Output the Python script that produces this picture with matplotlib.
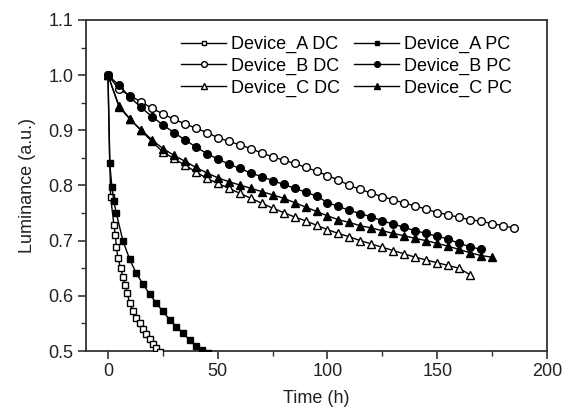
import matplotlib
matplotlib.use("Agg")
import matplotlib.pyplot as plt
from matplotlib.ticker import MultipleLocator, FormatStrFormatter

plt.rcParams['font.family'] = ['Liberation Sans', 'DejaVu Sans']

# ---- data ----
a_dc_t = [0, 1.2, 2.7, 3.4, 3.8, 4.6, 5.8, 6.8, 7.9, 8.8, 9.9, 11.4, 12.9, 14.4, 15.9, 17.5, 19.0, 20.5, 22.0, 23.6]
a_dc_y = [1.0, 0.78, 0.729, 0.71, 0.689, 0.668, 0.650, 0.635, 0.620, 0.605, 0.587, 0.572, 0.560, 0.551, 0.540, 0.531, 0.522, 0.513, 0.505, 0.499]

a_pc_t = [0, 0.8, 1.8, 2.7, 3.8, 6.8, 9.9, 12.9, 16.0, 19.0, 22.0, 25.0, 28.1, 31.2, 34.2, 37.2, 40.3, 43.0, 45.5]
a_pc_y = [1.0, 0.84, 0.798, 0.771, 0.750, 0.700, 0.666, 0.641, 0.621, 0.603, 0.587, 0.572, 0.557, 0.544, 0.532, 0.520, 0.509, 0.502, 0.497]

b_dc_t = list(range(0, 186, 5))
b_dc_y = [1.0, 0.975, 0.963, 0.952, 0.940, 0.930, 0.920, 0.912, 0.904, 0.896,
          0.887, 0.880, 0.874, 0.867, 0.859, 0.852, 0.846, 0.840, 0.833, 0.826,
          0.818, 0.810, 0.800, 0.793, 0.786, 0.780, 0.774, 0.768, 0.763, 0.757,
          0.751, 0.747, 0.742, 0.738, 0.735, 0.731, 0.727, 0.723]

b_pc_t = list(range(0, 171, 5))
b_pc_y = [1.0, 0.982, 0.960, 0.942, 0.925, 0.910, 0.896, 0.883, 0.870, 0.858,
          0.848, 0.839, 0.831, 0.823, 0.816, 0.809, 0.802, 0.795, 0.788, 0.781,
          0.769, 0.762, 0.755, 0.749, 0.743, 0.736, 0.730, 0.724, 0.718, 0.713,
          0.708, 0.703, 0.695, 0.689, 0.684]

c_dc_t = list(range(0, 166, 5))
c_dc_y = [1.0, 0.945, 0.921, 0.900, 0.880, 0.861, 0.849, 0.837, 0.825, 0.813,
          0.804, 0.795, 0.786, 0.777, 0.768, 0.759, 0.751, 0.743, 0.736, 0.728,
          0.720, 0.713, 0.707, 0.700, 0.694, 0.688, 0.682, 0.676, 0.670, 0.665,
          0.660, 0.655, 0.650, 0.638]

c_pc_t = list(range(0, 176, 5))
c_pc_y = [1.0, 0.943, 0.920, 0.901, 0.883, 0.867, 0.855, 0.844, 0.833, 0.823,
          0.814, 0.807, 0.801, 0.795, 0.789, 0.783, 0.777, 0.769, 0.761, 0.753,
          0.745, 0.738, 0.733, 0.727, 0.723, 0.718, 0.713, 0.709, 0.704, 0.700,
          0.695, 0.690, 0.684, 0.678, 0.673, 0.670]

x_ticks = [0, 50, 100, 150, 200]
y_ticks = [0.5, 0.6, 0.7, 0.8, 0.9, 1.0, 1.1]

fig = plt.figure(figsize=(5.63, 4.07), dpi=100)
ax = fig.add_axes([86/563, 1-351/407, (547-86)/563, (351-20)/407])

lw = 1.0
kw_open = dict(color='black', lw=lw, mfc='white', mec='black', mew=1.0)
kw_fill = dict(color='black', lw=lw, mfc='black', mec='black', mew=1.0)

ax.plot(a_dc_t, a_dc_y, marker='s', ms=4.2, label='Device_A DC', **kw_open, zorder=3)
ax.plot(b_dc_t, b_dc_y, marker='o', ms=5.5, label='Device_B DC', **kw_open, zorder=3)
ax.plot(c_dc_t, c_dc_y, marker='^', ms=6, label='Device_C DC', **kw_open, zorder=3)
ax.plot(a_pc_t, a_pc_y, marker='s', ms=4.2, label='Device_A PC', **kw_fill, zorder=4)
ax.plot(b_pc_t, b_pc_y, marker='o', ms=5.5, label='Device_B PC', **kw_fill, zorder=4)
ax.plot(c_pc_t, c_pc_y, marker='^', ms=6, label='Device_C PC', **kw_fill, zorder=4)

ax.set_xlim(-10, 200)
ax.set_ylim(0.5, 1.1)
ax.set_xticks(x_ticks)
ax.set_yticks(y_ticks)
ax.xaxis.set_minor_locator(MultipleLocator(25))
ax.yaxis.set_minor_locator(MultipleLocator(0.05))
ax.yaxis.set_major_formatter(FormatStrFormatter('%.1f'))

for s in ax.spines.values():
    s.set_linewidth(1.3)
    s.set_color('#333333')
ax.tick_params(which='both', direction='out', color='#333333', labelcolor='#222222',
               top=False, right=False)
ax.tick_params(which='major', length=6, width=1.2, labelsize=13, pad=3)
ax.tick_params(which='minor', length=3.5, width=1.0)

ax.set_xlabel('Time (h)', fontsize=13, labelpad=7, color='#222222')
ax.set_ylabel('Luminance (a.u.)', fontsize=13, labelpad=9, color='#222222')

ax.legend(ncol=2, loc='upper left', bbox_to_anchor=((181-86)/461, (351-36)/331),
          frameon=False, fontsize=13, markerscale=0.75, handlelength=2.5,
          handletextpad=0.25, columnspacing=0.8, labelspacing=0.25,
          borderaxespad=0, borderpad=0)

fig.savefig('out.png', dpi=100)
